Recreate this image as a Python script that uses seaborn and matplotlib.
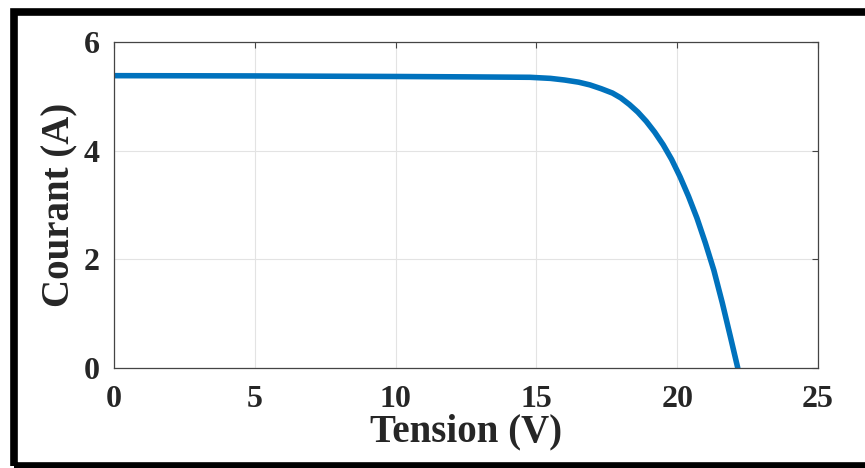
import numpy as np
import pandas as pd
import matplotlib.pyplot as plt
import seaborn as sns
from matplotlib.patches import Rectangle

# I-V curve
tension = [0, 2.5, 5, 7.5, 10, 12.5, 14.77, 15.5, 16, 16.5, 16.9, 17.3, 17.7,
           18.0, 18.3, 18.6, 18.9, 19.2, 19.5, 19.8, 20.1, 20.4, 20.7, 21.0,
           21.3, 21.6, 21.9, 22.15]
courant = [5.38, 5.378, 5.375, 5.37, 5.365, 5.358, 5.35, 5.33, 5.30, 5.26,
           5.21, 5.14, 5.06, 4.97, 4.85, 4.71, 4.54, 4.34, 4.11, 3.84, 3.52,
           3.16, 2.76, 2.30, 1.80, 1.20, 0.55, 0.0]
xticks = [0, 5, 10, 15, 20, 25]
yticks = [0, 2, 4, 6]

df = pd.DataFrame({'Tension': tension, 'Courant': courant})

sns.set_style('whitegrid')
plt.rcParams['font.family'] = ['Liberation Serif', 'DejaVu Serif']
plt.rcParams['font.weight'] = 'bold'

fig = plt.figure(figsize=(8.65, 4.68), dpi=100)
ax = fig.add_axes([0.1318, 0.2137, 0.8139, 0.6966])

sns.lineplot(x='Tension', y='Courant', data=df, ax=ax, color='#0072BD',
             lw=4.0, sort=False)

ax.set_xlim(0, 25)
ax.set_ylim(0, 6)
ax.set_xticks(xticks)
ax.set_yticks(yticks)
ax.set_xticklabels([str(t) for t in xticks], fontsize=23, fontweight='bold')
ax.set_yticklabels([str(t) for t in yticks], fontsize=23, fontweight='bold')
ax.set_xlabel('Tension (V)', fontsize=28, fontweight='bold', labelpad=0)
ax.set_ylabel('Courant (A)', fontsize=28, fontweight='bold', labelpad=4)

ax.grid(True, color='#e3e3e3', lw=0.8)
for s in ax.spines.values():
    s.set_color('#444444')
    s.set_linewidth(0.9)
ax.tick_params(direction='in', length=4, width=0.8, color='#444444',
               top=True, right=True)
ax.tick_params(axis='x', pad=12)
ax.tick_params(axis='y', pad=10)

# thick black frame around the figure (right side runs off the picture)
fig.patches.append(Rectangle((13.5 / 865, 2 / 468), 1.0, 454 / 468, fill=False,
                             ec='black', lw=5.5, transform=fig.transFigure))

plt.savefig('out.png', dpi=100)
